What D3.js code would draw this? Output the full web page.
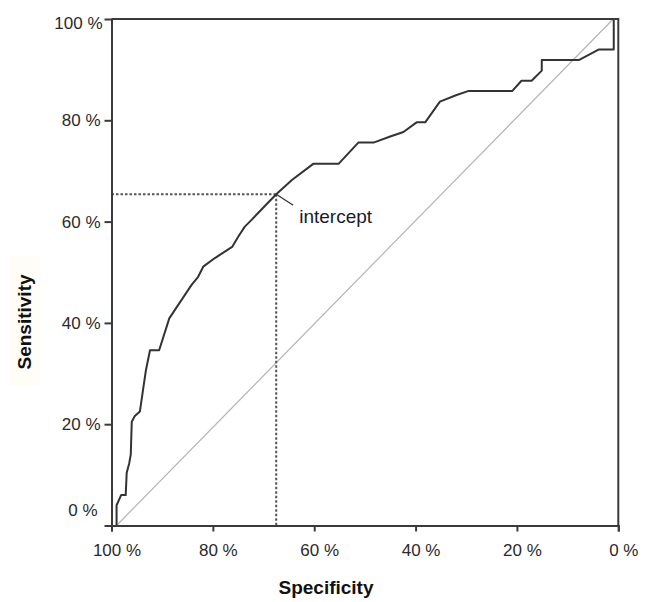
<!DOCTYPE html>
<html>
<head>
<meta charset="utf-8">
<script src="https://cdn.jsdelivr.net/npm/d3@7"></script>
<style>
  html, body { margin: 0; padding: 0; background: #fff; }
  svg { display: block; }
</style>
</head>
<body>
<svg id="chart" width="652" height="602"></svg>
<script>
// ROC curve points: [specificity %, sensitivity %]
const rocSpecificity = [99, 99, 98.1, 97.2, 97, 96.5, 96.2, 96, 95.4, 94.4, 93.7, 93.2, 92.4, 90.6, 88.6, 86.6, 84.2, 82.9, 81.9, 79.6, 76.2, 75, 73.7, 72.7, 67.5, 64.4, 60.2, 55.2, 51.3, 48.3, 45, 42.4, 39.8, 38.1, 35.2, 31.9, 29.5, 20.9, 19.1, 17.1, 15.1, 15.1, 7.8, 3.8, 0.9, 0.9, 0];
const rocSensitivity = [0, 4, 6, 6, 10.4, 12.3, 14, 20.5, 21.6, 22.5, 27.3, 30.7, 34.6, 34.6, 40.9, 43.9, 47.5, 49.1, 51.1, 52.8, 55, 57, 59, 60, 65.4, 68.2, 71.4, 71.4, 75.6, 75.6, 76.8, 77.7, 79.6, 79.6, 83.7, 85, 85.8, 85.8, 87.8, 87.8, 89.8, 91.9, 91.9, 94, 94, 100, 100];
// Reference (chance) diagonal
const diagSpecificity = [99, 1];
const diagSensitivity = [0, 100];
// Intercept (optimal cut-off)
const interceptPoint = [67.5, 65.4];
const interceptLabel = "intercept";
// Ticks
const xTickValues = [100, 80, 60, 40, 20, 0];
const yTickValues = [0, 20, 40, 60, 80, 100];
const tickFormat = v => v + " %";
const xTitle = "Specificity";
const yTitle = "Sensitivity";

const svg = d3.select("#chart");
svg.append("rect").attr("width", 652).attr("height", 602).attr("fill", "#fff");

const x = d3.scaleLinear().domain([100, 0]).range([111.5, 618.3]);
const y = d3.scaleLinear().domain([0, 100]).range([525.5, 19]);

const axisColor = "#3a3a3a";
const font = "'Liberation Sans', Arial, sans-serif";

// very faint background behind y title (as in the scanned reference)
svg.append("rect")
  .attr("x", 10).attr("y", 256).attr("width", 30).attr("height", 130)
  .attr("fill", "#fefdf6");

// Diagonal
const diag = diagSpecificity.map((s, i) => [s, diagSensitivity[i]]);
svg.append("path")
  .datum(diag)
  .attr("d", d3.line().x(d => x(d[0])).y(d => y(d[1])))
  .attr("fill", "none")
  .attr("stroke", "#b4b4b4")
  .attr("stroke-width", 1.2);

// Dotted guide lines to intercept
svg.append("line")
  .attr("x1", x(100)).attr("x2", x(interceptPoint[0]))
  .attr("y1", y(interceptPoint[1])).attr("y2", y(interceptPoint[1]))
  .attr("stroke", "#555").attr("stroke-width", 2).attr("stroke-dasharray", "2.5,2");
svg.append("line")
  .attr("x1", x(interceptPoint[0])).attr("x2", x(interceptPoint[0]))
  .attr("y1", y(interceptPoint[1])).attr("y2", y(0))
  .attr("stroke", "#555").attr("stroke-width", 2).attr("stroke-dasharray", "2.5,2");

// ROC curve
const roc = rocSpecificity.map((s, i) => [s, rocSensitivity[i]]);
svg.append("path")
  .datum(roc)
  .attr("d", d3.line().x(d => x(d[0])).y(d => y(d[1])))
  .attr("fill", "none")
  .attr("stroke", "#333")
  .attr("stroke-width", 2)
  .attr("stroke-linejoin", "round");

// Frame (top + right)
svg.append("path")
  .attr("d", `M${x(100)},${y(100)}H${x(0)}V${y(0)}`)
  .attr("fill", "none").attr("stroke", axisColor).attr("stroke-width", 2);

// X axis
const gx = svg.append("g")
  .attr("transform", `translate(0,${y(0)})`)
  .call(d3.axisBottom(x).tickValues(xTickValues).tickFormat(tickFormat).tickSize(6).tickPadding(12));
gx.select(".domain").attr("stroke", axisColor).attr("stroke-width", 2);
gx.selectAll(".tick line").attr("stroke", axisColor).attr("stroke-width", 2);
gx.selectAll(".tick text")
  .attr("font-family", font).attr("font-size", 17).attr("fill", "#2a2a2a")
  .attr("dx", 5);

// Y axis
const gy = svg.append("g")
  .attr("transform", `translate(${x(100)},0)`)
  .call(d3.axisLeft(y).tickValues(yTickValues).tickFormat(tickFormat).tickSize(7).tickPadding(4));
gy.select(".domain").attr("stroke", axisColor).attr("stroke-width", 2);
gy.selectAll(".tick line").attr("stroke", axisColor).attr("stroke-width", 2)
  .attr("opacity", d => (d === 0 || d === 100) ? 0 : 1);
gy.selectAll(".tick text")
  .attr("font-family", font).attr("font-size", 17).attr("fill", "#2a2a2a")
  .attr("transform", d => d === 0 ? "translate(-3,-15)" : d === 100 ? "translate(2,4)" : null);

// Intercept label + leader
const ix = x(interceptPoint[0]), iy = y(interceptPoint[1]);
svg.append("line")
  .attr("x1", ix).attr("y1", iy).attr("x2", ix + 17).attr("y2", iy + 11)
  .attr("stroke", "#333").attr("stroke-width", 1.3);
svg.append("text")
  .attr("x", ix + 23).attr("y", iy + 29)
  .attr("font-family", font).attr("font-size", 19).attr("fill", "#1a1a2a")
  .text(interceptLabel);

// Axis titles
svg.append("text")
  .attr("x", 326).attr("y", 594)
  .attr("text-anchor", "middle")
  .attr("font-family", font).attr("font-weight", "bold").attr("font-size", 19).attr("fill", "#111")
  .text(xTitle);
svg.append("text")
  .attr("transform", "translate(31,322) rotate(-90)")
  .attr("text-anchor", "middle")
  .attr("font-family", font).attr("font-weight", "bold").attr("font-size", 19).attr("fill", "#111")
  .text(yTitle);
</script>
</body>
</html>
